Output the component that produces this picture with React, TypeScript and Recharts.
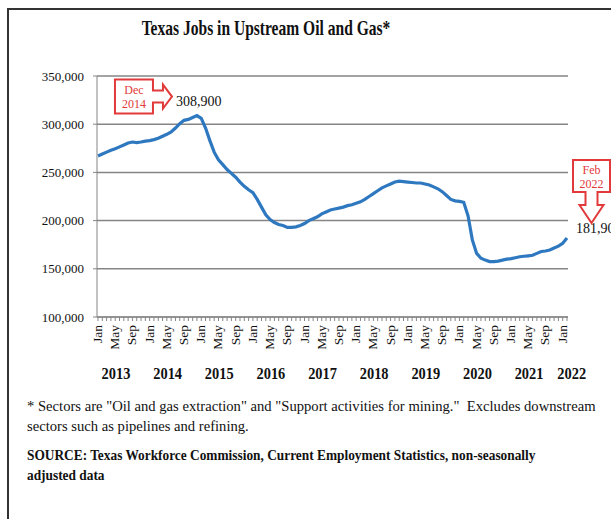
import { LineChart, Line, XAxis, YAxis, CartesianGrid, ReferenceDot } from 'recharts';

const MONTHS = ['Jan', 'Feb', 'Mar', 'Apr', 'May', 'Jun', 'Jul', 'Aug', 'Sep', 'Oct', 'Nov', 'Dec'];
const YEARS = [2013, 2014, 2015, 2016, 2017, 2018, 2019, 2020, 2021, 2022];
const Y_TICKS = [100000, 150000, 200000, 250000, 300000, 350000];
const LABEL_MONTHS = ['Jan', 'May', 'Sep'];

// jobs by month, one row per year (2022 only Jan-Feb)
const JOBS_2013 = [267000, 269000, 271000, 273000, 274500, 276500, 278500, 280500, 281500, 281000, 281500, 282500];
const JOBS_2014 = [283000, 284000, 285500, 287500, 289500, 292000, 296000, 300500, 304000, 305000, 307000, 308900];
const JOBS_2015 = [306000, 296000, 283000, 271000, 263000, 258000, 253000, 249000, 245000, 240000, 235500, 232000];
const JOBS_2016 = [229000, 222000, 214000, 206000, 201000, 198000, 196000, 195000, 193000, 193000, 193500, 195000];
const JOBS_2017 = [197000, 200000, 202000, 204000, 207000, 209000, 211000, 212000, 213000, 214000, 215500, 216500];
const JOBS_2018 = [218000, 219500, 222000, 225000, 228000, 231000, 234000, 236000, 238000, 240000, 241000, 240500];
const JOBS_2019 = [240000, 239500, 239000, 239000, 238000, 237000, 235000, 233000, 230000, 226000, 222000, 220500];
const JOBS_2020 = [220000, 219000, 205000, 180000, 166000, 161000, 159000, 157500, 157500, 158000, 159000, 160000];
const JOBS_2021 = [160500, 161500, 162500, 163000, 163500, 164000, 166000, 168000, 168500, 169500, 171500, 173500];
const JOBS_2022 = [176500, 181900];

const JOBS = [JOBS_2013, JOBS_2014, JOBS_2015, JOBS_2016, JOBS_2017, JOBS_2018, JOBS_2019, JOBS_2020, JOBS_2021, JOBS_2022];

const DATA = YEARS.flatMap((year, yi) =>
  JOBS[yi].map((jobs, mi) => ({ key: `${MONTHS[mi]} ${year}`, month: MONTHS[mi], year, jobs }))
);

const PEAK = DATA.find((d) => d.key === 'Dec 2014')!;
const LAST = DATA[DATA.length - 1];

const SERIF = '"Liberation Serif", "Times New Roman", serif';
const RED = '#e23a3a';
const fmt = (v: number) => v.toLocaleString('en-US');

function MonthTick(props: any) {
  const { x, y, index } = props;
  const d = DATA[index];
  if (!d) return null;
  return (
    <g>
      {LABEL_MONTHS.includes(d.month) && (
        <text
          transform={`translate(${x + 4},${y + 2}) rotate(-90) scale(1,0.85)`}
          textAnchor="end"
          fontSize={13.5}
          fontFamily={SERIF}
          fill="#111"
        >
          {d.month}
        </text>
      )}
      {d.month === 'Jan' && (
        <text
          transform={`translate(${x + (d.year === 2022 ? 9 : 18)},${y + 56}) scale(0.9,1)`}
          textAnchor="middle"
          fontSize={16}
          fontWeight="bold"
          fontFamily={SERIF}
          fill="#111"
        >
          {d.year}
        </text>
      )}
    </g>
  );
}

function DecCallout(props: any) {
  const { cx, cy } = props;
  const L = cx - 82, R = cx - 44, T = cy - 36, B = cy - 2;
  const mid = (T + B) / 2;
  const path = [
    `M${L},${T}`, `L${R},${T}`, `L${R},${mid - 6}`, `L${R + 10},${mid - 6}`, `L${R + 10},${mid - 12}`,
    `L${R + 19},${mid}`, `L${R + 10},${mid + 12}`, `L${R + 10},${mid + 6}`, `L${R},${mid + 6}`,
    `L${R},${B}`, `L${L},${B}`, 'Z',
  ].join(' ');
  return (
    <g>
      <path d={path} fill="#fff" stroke={RED} strokeWidth={2} />
      <text x={(L + R) / 2} y={mid - 3} textAnchor="middle" fontSize={12} fontFamily={SERIF} fill={RED}>Dec</text>
      <text x={(L + R) / 2} y={mid + 11} textAnchor="middle" fontSize={12} fontFamily={SERIF} fill={RED}>2014</text>
      <text x={R + 23} y={mid + 9} fontSize={14} fontFamily={SERIF} fill="#111">{fmt(PEAK.jobs)}</text>
    </g>
  );
}

function FebCallout(props: any) {
  const { cx, cy } = props;
  const L = cx + 6, R = cx + 43, T = cy - 78, B = cy - 46;
  const mid = (L + R) / 2;
  const path = [
    `M${L},${T}`, `L${R},${T}`, `L${R},${B}`, `L${mid + 6},${B}`, `L${mid + 6},${B + 13}`,
    `L${mid + 12},${B + 13}`, `L${mid},${B + 31}`, `L${mid - 12},${B + 13}`, `L${mid - 6},${B + 13}`,
    `L${mid - 6},${B}`, `L${L},${B}`, 'Z',
  ].join(' ');
  return (
    <g>
      <path d={path} fill="#fff" stroke={RED} strokeWidth={2} />
      <text x={mid} y={T + 14} textAnchor="middle" fontSize={12} fontFamily={SERIF} fill={RED}>Feb</text>
      <text x={mid} y={T + 28} textAnchor="middle" fontSize={12} fontFamily={SERIF} fill={RED}>2022</text>
      <text x={L + 3} y={cy - 5} fontSize={14} fontFamily={SERIF} fill="#111">{fmt(LAST.jobs)}</text>
    </g>
  );
}

export default function App() {
  return (
    <div style={{ position: 'absolute', left: 0, top: 0, width: 611, height: 519, overflow: 'hidden', background: '#fff', fontFamily: SERIF, color: '#111' }}>
      <div style={{ position: 'absolute', left: 7, top: 8, width: 700, height: 600, border: '2px solid #333', boxSizing: 'border-box' }} />
      <div style={{ position: 'absolute', left: 0, width: 532, top: 16, textAlign: 'center', fontSize: 21, fontWeight: 'bold', whiteSpace: 'nowrap', transformOrigin: '266px 0', transform: 'scaleX(0.74)' }}>
        Texas Jobs in Upstream Oil and Gas*
      </div>
      <div style={{ position: 'absolute', left: 0, top: 0 }}>
        <LineChart width={611} height={519} data={DATA} margin={{ top: 76, right: 43, left: 7, bottom: 142 }}>
          <CartesianGrid vertical={false} stroke="#858585" strokeWidth={1.5} />
          <XAxis
            dataKey="key"
            interval={0}
            height={60}
            tickSize={4}
            tickMargin={2}
            padding={{ left: 1, right: 1 }}
            stroke="#858585"
            tick={<MonthTick />}
          />
          <YAxis
            width={90}
            domain={[100000, 350000]}
            ticks={Y_TICKS}
            tickFormatter={fmt}
            tickSize={4}
            tickMargin={9}
            stroke="#858585"
            tick={{ fontSize: 13, fontFamily: SERIF, fill: '#111' }}
          />
          <Line type="linear" dataKey="jobs" stroke="#2e78c0" strokeWidth={3.2} dot={false} isAnimationActive={false} />
          <ReferenceDot x={PEAK.key} y={PEAK.jobs} shape={<DecCallout />} />
          <ReferenceDot x={LAST.key} y={LAST.jobs} shape={<FebCallout />} />
        </LineChart>
      </div>
      <div style={{ position: 'absolute', left: 27, top: 396, fontSize: 15, lineHeight: '20px', width: 640, whiteSpace: 'nowrap', transformOrigin: '0 0', transform: 'scaleX(0.975)' }}>
        * Sectors are "Oil and gas extraction" and "Support activities for mining."&nbsp; Excludes downstream
        <br />
        sectors such as pipelines and refining.
      </div>
      <div style={{ position: 'absolute', left: 27, top: 445, fontSize: 15, lineHeight: '20px', fontWeight: 'bold', width: 640, whiteSpace: 'nowrap', transformOrigin: '0 0', transform: 'scaleX(0.89)' }}>
        SOURCE: Texas Workforce Commission, Current Employment Statistics, non-seasonally
        <br />
        adjusted data
      </div>
    </div>
  );
}
